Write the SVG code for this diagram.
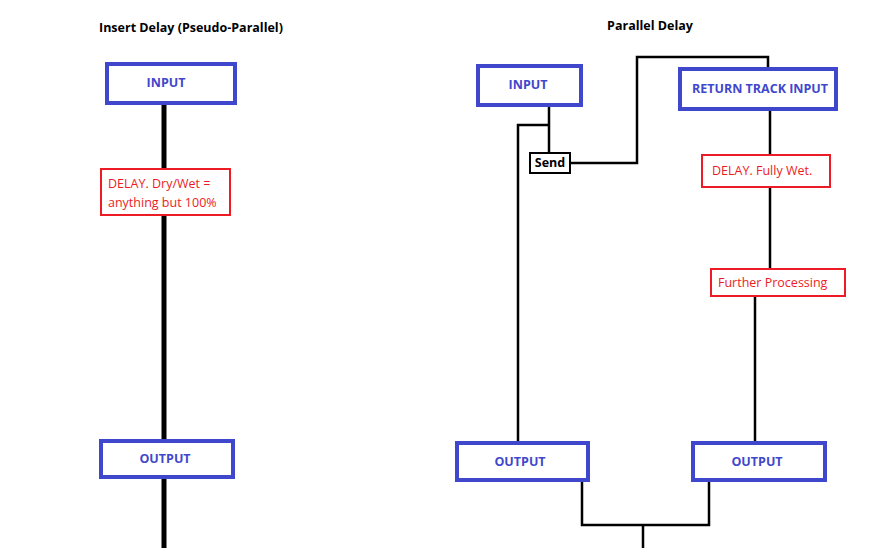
<svg xmlns="http://www.w3.org/2000/svg" width="876" height="548" viewBox="0 0 876 548">
<style>
text{font-family:"Open Sans","Liberation Sans",sans-serif;font-size:12.5px}
.t{font-weight:bold;fill:#000}
.b rect{fill:#fff;stroke:#3f48cc;stroke-width:4}
.b text{fill:#3f48cc;font-weight:bold;text-anchor:middle}
.r rect{fill:#fff;stroke:#ed1c24;stroke-width:2}
.r text{fill:#ed1c24}
.l{fill:none;stroke:#000;stroke-width:2.5}
</style>
<rect width="876" height="548" fill="#fff"/>
<text class="t" x="99" y="32">Insert Delay (Pseudo-Parallel)</text>
<text class="t" x="650" y="30" text-anchor="middle">Parallel Delay</text>
<g id="connectors">
<path d="M164 103V548" fill="none" stroke="#000" stroke-width="5"/>
<path class="l" d="M549 105V153M549 125H518V443M570 163H637V57H768V69M770 109V269M755 296V443M582 480V525H709V480M643 525V548"/>
</g>
<g id="in1" class="b"><rect x="107" y="64" width="128" height="39"/><text x="166" y="87">INPUT</text></g>
<g id="delay1" class="r"><rect x="101" y="169" width="129" height="46"/><text x="108" y="188">DELAY. Dry/Wet =</text><text x="108" y="207">anything but 100%</text></g>
<g id="out1" class="b"><rect x="101" y="441" width="132" height="36"/><text x="165" y="463">OUTPUT</text></g>
<g id="in2" class="b"><rect x="478" y="66" width="103" height="39"/><text x="528" y="89">INPUT</text></g>
<g id="send"><rect x="530" y="153" width="40" height="20" fill="#fff" stroke="#000" stroke-width="2"/><text class="t" x="550" y="167" text-anchor="middle">Send</text></g>
<g id="ret" class="b"><rect x="680" y="69" width="156" height="40"/><text x="760" y="93">RETURN TRACK INPUT</text></g>
<g id="delay2" class="r"><rect x="702" y="155" width="128" height="32"/><text x="712" y="175">DELAY. Fully Wet.</text></g>
<g id="fp" class="r"><rect x="711" y="269" width="134" height="27"/><text x="718" y="287">Further Processing</text></g>
<g id="out2" class="b"><rect x="457" y="443" width="131" height="37"/><text x="520" y="466">OUTPUT</text></g>
<g id="out3" class="b"><rect x="693" y="443" width="132" height="37"/><text x="757" y="466">OUTPUT</text></g>
</svg>
